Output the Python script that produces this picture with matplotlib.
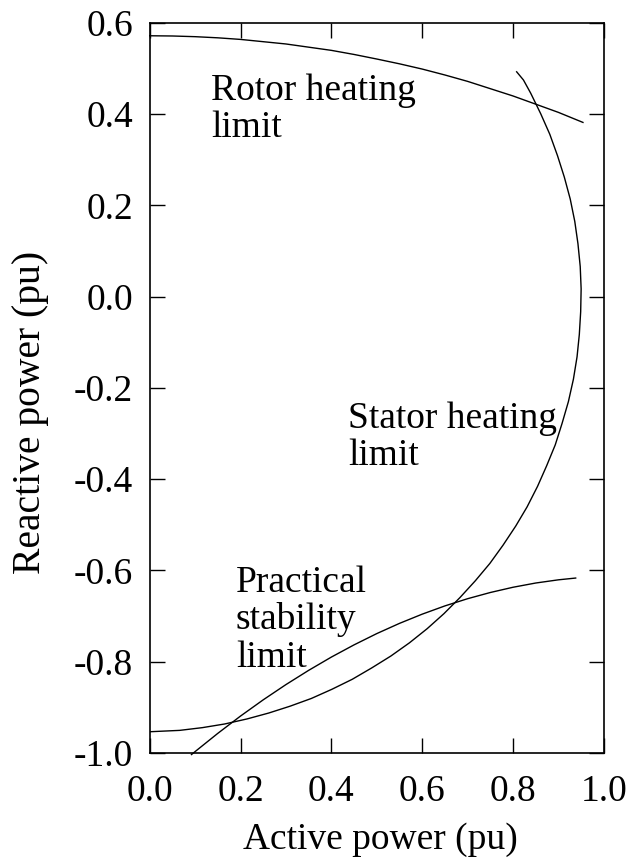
import numpy as np
import matplotlib
matplotlib.use('Agg')
import matplotlib.pyplot as plt
from matplotlib.ticker import MultipleLocator

plt.rcParams['font.family'] = ['Liberation Serif', 'DejaVu Serif']
plt.rcParams['axes.unicode_minus'] = False

# Rotor heating limit
P_rotor = [0.0, 0.05, 0.1, 0.15, 0.2, 0.25, 0.3, 0.35, 0.4, 0.45, 0.5, 0.55, 0.6,
           0.65, 0.7, 0.75, 0.8, 0.85, 0.9, 0.954]
Q_rotor = [0.572, 0.5715, 0.570, 0.5675, 0.564, 0.559, 0.554, 0.547, 0.540, 0.531, 0.521, 0.5105, 0.499,
           0.486, 0.472, 0.456, 0.440, 0.422, 0.404, 0.382]

# Stator heating limit
P_stator = [0.808, 0.823, 0.839, 0.861, 0.881, 0.898, 0.913, 0.926, 0.936, 0.943, 0.948, 0.950, 0.949,
            0.946, 0.941, 0.933, 0.922, 0.908, 0.893, 0.874, 0.854, 0.831, 0.806, 0.778, 0.749,
            0.717, 0.683, 0.648, 0.611, 0.572, 0.531, 0.489, 0.446, 0.401, 0.356, 0.309, 0.262,
            0.214, 0.165, 0.116, 0.066, 0.0]
Q_stator = [0.493, 0.475, 0.446, 0.401, 0.356, 0.309, 0.262, 0.214, 0.165, 0.116, 0.066, 0.017, -0.033,
            -0.083, -0.132, -0.181, -0.230, -0.278, -0.325, -0.371, -0.416, -0.461, -0.503, -0.545, -0.585,
            -0.623, -0.660, -0.695, -0.728, -0.759, -0.788, -0.814, -0.839, -0.861, -0.881, -0.898, -0.913,
            -0.926, -0.937, -0.945, -0.951, -0.954]

# Practical stability limit
P_stab = [0.092, 0.10, 0.15, 0.20, 0.25, 0.30, 0.35, 0.40, 0.45, 0.50, 0.55, 0.60,
          0.65, 0.70, 0.75, 0.80, 0.85, 0.90, 0.938]
Q_stab = [-1.004, -0.9975, -0.9575, -0.9196, -0.884, -0.8506, -0.8194, -0.7903, -0.7635, -0.7388, -0.7164, -0.6962,
          -0.6781, -0.6623, -0.6487, -0.6372, -0.6279, -0.6209, -0.617]

fs = 27

fig = plt.figure(figsize=(6.29, 8.58), dpi=100)
ax = fig.add_axes([0.238, 0.1227, 0.722, 0.8505])

ax.plot(P_rotor, Q_rotor, color='black', lw=1.0, clip_on=False)
ax.plot(P_stator, Q_stator, color='black', lw=1.0)
ax.plot(P_stab, Q_stab, color='black', lw=1.0, clip_on=False)

ax.text(0.136, 0.49, 'Rotor heating\nlimit', fontsize=fs, va='top', ha='left', linespacing=1.1)
ax.text(0.437, -0.23, 'Stator heating\nlimit', fontsize=fs, va='top', ha='left', linespacing=1.1)
ax.text(0.19, -0.589, 'Practical\nstability\nlimit', fontsize=fs, va='top', ha='left', linespacing=1.1)

ax.set_xlim(0, 1.0)
ax.set_ylim(-1.0, 0.6)
ax.xaxis.set_major_locator(MultipleLocator(0.2))
ax.yaxis.set_major_locator(MultipleLocator(0.2))
ax.xaxis.set_major_formatter(plt.FormatStrFormatter('%.1f'))
ax.yaxis.set_major_formatter(plt.FormatStrFormatter('%.1f'))
ax.tick_params(direction='in', length=11, width=1.0, top=True, right=True, labelsize=fs)
ax.tick_params(axis='x', pad=15.5)
ax.tick_params(axis='y', pad=12)
for s in ax.spines.values():
    s.set_linewidth(1.2)

# axis titles
fig.text(0.604, 0.0101, 'Active power (pu)', fontsize=fs, ha='center', va='baseline')
fig.text(0.049, 0.519, 'Reactive power (pu)', fontsize=28.5, ha='center', va='center', rotation=90)

fig.savefig('out.png', dpi=100)
